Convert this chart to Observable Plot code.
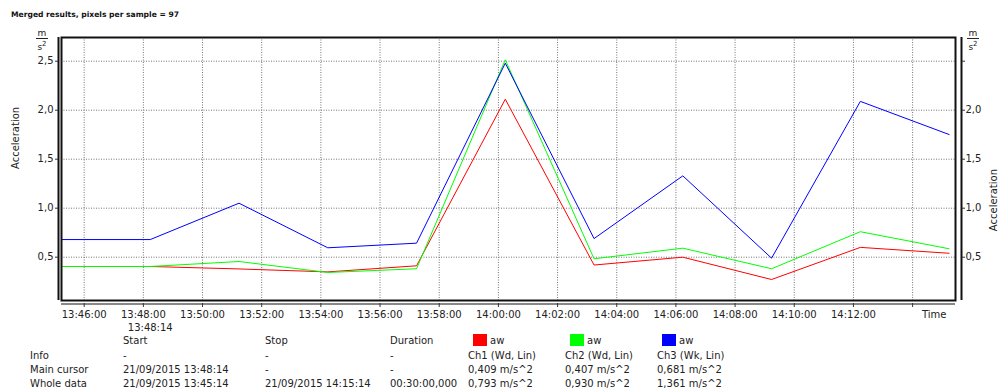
<!DOCTYPE html>
<html>
<head>
<meta charset="utf-8">
<script src="https://cdn.jsdelivr.net/npm/d3@7"></script>
<script src="https://cdn.jsdelivr.net/npm/@observablehq/plot@0.6"></script>
<style>
  html, body { margin: 0; padding: 0; background: #fff; }
  #wrap { position: relative; width: 999px; height: 390px; overflow: hidden; font-family: "DejaVu Sans", sans-serif; color: #222; }
  #chart { position: absolute; left: 0; top: 0; }
  .abs { position: absolute; white-space: nowrap; }
  .title { font-weight: bold; font-size: 7.6px; left: 11px; top: 10px; color: #111; }
  .cell { font-size: 10px; line-height: 12px; }
  .sw { position: absolute; width: 14px; height: 12px; }
  .unit { font-size: 9px; line-height: 9px; text-align: center; width: 12px; }
</style>
</head>
<body>
<div id="wrap"></div>
<script>
// ---------- data ----------
const day = "2015-09-21";
const sampleTimes = ["13:45:14","13:48:14","13:51:14","13:54:14","13:57:14","14:00:14","14:03:14","14:06:14","14:09:14","14:12:14","14:15:14"];
const ch1 = [0.405, 0.405, 0.38, 0.35, 0.412, 2.112, 0.42, 0.50, 0.272, 0.60, 0.54];
const ch2 = [0.405, 0.405, 0.456, 0.344, 0.382, 2.514, 0.484, 0.592, 0.382, 0.76, 0.586];
const ch3 = [0.68, 0.68, 1.051, 0.596, 0.643, 2.48, 0.69, 1.33, 0.49, 2.09, 1.752];
const seriesNames = ["Ch1", "Ch2", "Ch3"];
const seriesColors = ["#ff0000", "#00ff00", "#0000ff"];
const xTickTimes = ["13:46:00","13:48:00","13:50:00","13:52:00","13:54:00","13:56:00","13:58:00","14:00:00","14:02:00","14:04:00","14:06:00","14:08:00","14:10:00","14:12:00","14:14:00"];
const xTickLabels = ["13:46:00","13:48:00","13:50:00","13:52:00","13:54:00","13:56:00","13:58:00","14:00:00","14:02:00","14:04:00","14:06:00","14:08:00","14:10:00","14:12:00",""];
const xDomainTimes = ["13:45:14", "14:15:27"];
const yTicks = [0.5, 1.0, 1.5, 2.0, 2.5];
const yDomain = [0.058, 2.742];
const cursorTime = "13:48:14";
const titleText = "Merged results, pixels per sample = 97";
const yLabel = "Acceleration";
const xLabel = "Time";

// table
const tableHeader = ["Start", "Stop", "Duration"];
const legendNames = ["aw", "aw", "aw"];
const rowLabels = ["Info", "Main cursor", "Whole data"];
const rowStart = ["-", "21/09/2015 13:48:14", "21/09/2015 13:45:14"];
const rowStop = ["-", "-", "21/09/2015 14:15:14"];
const rowDuration = ["-", "-", "00:30:00,000"];
const rowCh1 = ["Ch1 (Wd, Lin)", "0,409 m/s^2", "0,793 m/s^2"];
const rowCh2 = ["Ch2 (Wd, Lin)", "0,407 m/s^2", "0,930 m/s^2"];
const rowCh3 = ["Ch3 (Wk, Lin)", "0,681 m/s^2", "1,361 m/s^2"];

// ---------- build ----------
const parse = d3.utcParse("%Y-%m-%d %H:%M:%S");
const t = s => parse(day + " " + s);
const times = sampleTimes.map(t);
const rows = [];
[ch1, ch2, ch3].forEach((vals, k) => vals.forEach((v, i) => rows.push({time: times[i], value: v, series: seriesNames[k]})));
const xTicks = xTickTimes.map(t);
const xDomain = xDomainTimes.map(t);
const cursor = t(cursorTime);
const fmtComma = d => d.toFixed(1).replace(".", ",");
const fmtTime = d3.utcFormat("%H:%M:%S");

const grid = {stroke: "#666", strokeDasharray: "1,1.5", strokeWidth: 1, strokeOpacity: 0.9};

const chart = Plot.plot({
  width: 999,
  height: 335,
  marginLeft: 61,
  marginRight: 44,
  marginTop: 37,
  marginBottom: 35,
  style: {fontFamily: "DejaVu Sans", fontSize: "10px", color: "#222", background: "transparent", overflow: "visible"},
  x: {type: "utc", domain: xDomain, axis: null},
  y: {domain: yDomain, axis: null},
  color: {domain: seriesNames, range: seriesColors},
  marks: [
    Plot.ruleX(xTicks, grid),
    Plot.ruleY(yTicks, grid),
    Plot.line(rows, {x: "time", y: "value", stroke: "series", z: "series", strokeWidth: 1, curve: "linear"}),
    Plot.frame({stroke: "#111", strokeWidth: 2}),
    // outer axis lines
    Plot.ruleX([xDomain[0]], {dx: -3, stroke: "#111", strokeWidth: 2}),
    Plot.ruleX([xDomain[1]], {dx: 6, stroke: "#111", strokeWidth: 2}),
    Plot.ruleY([yDomain[0]], {dy: 3.5, stroke: "#888", strokeWidth: 2}),
    Plot.axisY({anchor: "left", ticks: yTicks, tickSize: 3, tickPadding: 2, dx: -3, tickFormat: fmtComma, label: null, stroke: "#333"}),
    Plot.axisY({anchor: "right", ticks: yTicks, tickSize: 3, tickPadding: 1, dx: 6, tickFormat: d => d === 2.5 ? "" : fmtComma(d), label: null, stroke: "#333"}),
    Plot.axisX({ticks: xTicks, tickSize: 4, tickPadding: 3, dy: 3, label: null, stroke: "#333",
      tickFormat: d => xTickLabels[xTickTimes.indexOf(fmtTime(d))]}),
    Plot.text([xLabel], {frameAnchor: "bottom-right", dx: -9, dy: 10, lineAnchor: "top", textAnchor: "end", text: d => d, fill: "#222"}),
    Plot.text([cursor], {x: d => d, frameAnchor: "bottom", dy: 23, lineAnchor: "top", text: d => fmtTime(d), fill: "#222"}),
    Plot.text([yLabel], {frameAnchor: "left", dx: -46, rotate: -90, text: d => d, fill: "#222"}),
    Plot.text([yLabel], {frameAnchor: "right", dx: 38, rotate: -90, text: d => d, fill: "#222"})
  ]
});
chart.id = "chart";
const wrap = document.getElementById("wrap");
wrap.appendChild(chart);

function addDiv(cls, text, left, top, extra) {
  const d = document.createElement("div");
  d.className = "abs " + cls;
  d.textContent = text;
  d.style.left = left + "px";
  d.style.top = top + "px";
  if (extra) Object.assign(d.style, extra);
  wrap.appendChild(d);
  return d;
}
addDiv("title", titleText, 11, 10);

// units (m / s²)
function unit(left) {
  const u = document.createElement("div");
  u.className = "abs unit";
  u.style.left = left + "px";
  u.style.top = "29px";
  u.innerHTML = '<div style="border-bottom:1px solid #222;line-height:8px;padding-bottom:1px">m</div><div style="line-height:11px">s<sup style="font-size:7px;vertical-align:4px">2</sup></div>';
  wrap.appendChild(u);
}
unit(36);
unit(967);

// table
const colX = [123, 265, 390];
const chX = [468, 565, 657];
const rowY = [350, 364, 378];
tableHeader.forEach((h, i) => addDiv("cell", h, colX[i], 335));
legendNames.forEach((n, i) => {
  const s = document.createElement("div");
  s.className = "sw";
  s.style.left = (chX[i] + 5) + "px";
  s.style.top = "334px";
  s.style.background = seriesColors[i];
  wrap.appendChild(s);
  addDiv("cell", n, chX[i] + 22, 335);
});
rowLabels.forEach((lab, r) => {
  addDiv("cell", lab, 30, rowY[r]);
  addDiv("cell", rowStart[r], colX[0], rowY[r]);
  addDiv("cell", rowStop[r], colX[1], rowY[r]);
  addDiv("cell", rowDuration[r], colX[2], rowY[r]);
  addDiv("cell", rowCh1[r], chX[0], rowY[r]);
  addDiv("cell", rowCh2[r], chX[1], rowY[r]);
  addDiv("cell", rowCh3[r], chX[2], rowY[r]);
});
</script>
</body>
</html>
